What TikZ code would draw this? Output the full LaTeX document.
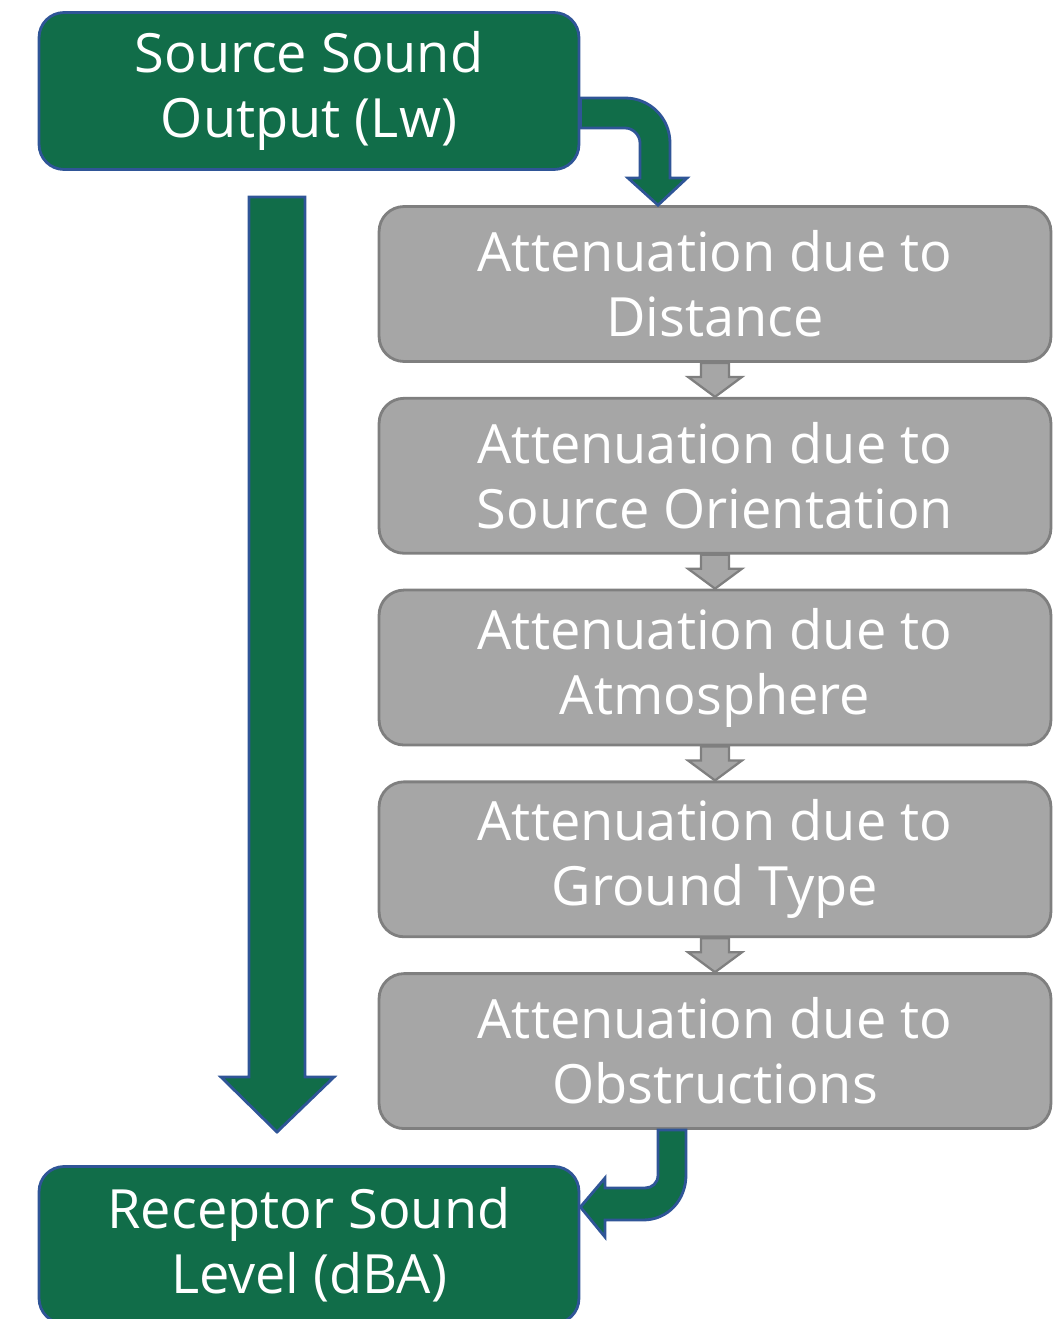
\documentclass[tikz,border=0pt]{standalone}
\usepackage{fontspec}
\setmainfont{Open Sans}
\usetikzlibrary{calc,positioning}
\definecolor{sndgreen}{RGB}{17,109,73}
\definecolor{sndblue}{RGB}{47,85,151}
\definecolor{attgray}{RGB}{166,166,166}
\definecolor{attedge}{RGB}{127,127,127}

\begin{document}
\begin{tikzpicture}[x=0.02cm,y=-0.02cm,line join=miter,
  end node/.style={rounded corners=0.5cm,fill=sndgreen,draw=sndblue,line width=1.6pt,
    minimum width=10.8cm,minimum height=3.14cm,text=white,align=center,
    font=\fontsize{30.8}{37}\selectfont},
  att node/.style={rounded corners=0.5cm,fill=attgray,draw=attedge,line width=1.6pt,
    minimum width=13.44cm,minimum height=3.1cm,text=white,align=center,
    font=\fontsize{30.8}{37}\selectfont},
  green arrow/.style={fill=sndgreen,draw=sndblue,line width=1.6pt},
  gray arrow/.style={fill=attgray,draw=attedge,line width=1.3pt}]

  \useasboundingbox (0,0) rectangle (1058,1319);

  \node[end node] (src) at (309,91) {Source Sound\\Output (Lw)};
  \node[att node] (dist) at (715,284) {Attenuation due to\\Distance};
  \node[att node] (orient) [below=0.68cm of dist] {Attenuation due to\\Source Orientation};
  \node[att node] (atmos) [below=0.68cm of orient] {Attenuation due to\\Atmosphere};
  \node[att node] (ground) [below=0.68cm of atmos] {Attenuation due to\\Ground Type};
  \node[att node] (obstr) [below=0.68cm of ground] {Attenuation due to\\Obstructions};
  \node[end node] (rec) at (309,1245) {Receptor Sound\\Level (dBA)};

  % small arrows between the attenuation steps
  \foreach \a/\b in {dist/orient,orient/atmos,atmos/ground,ground/obstr}
    \draw[gray arrow] ($(\a.south)+(-14,0)$) -- ($(\a.south)+(-14,14)$)
      -- ($(\a.south)+(-27,14)$) -- (\b.north) -- ($(\a.south)+(27,14)$)
      -- ($(\a.south)+(14,14)$) -- ($(\a.south)+(14,0)$) -- cycle;

  % source to first step
  \draw[green arrow] (src.east |- 0,98) -- (625,98)
    .. controls (650,98) and (670,118) .. (670,143) -- (670,178) -- (687,178)
    -- (dist.north -| 658,0) -- (628,178) -- (640,178) -- (640,143)
    .. controls (640,135) and (633,128) .. (625,128) -- (src.east |- 0,128) -- cycle;

  % straight path from source to receptor
  \draw[green arrow] (249,197) -- (305,197) -- (305,1077) -- (334,1077)
    -- (277,1132) -- (221,1077) -- (249,1077) -- cycle;

  % last step to receptor
  \draw[green arrow] (obstr.south -| 658,0) -- (obstr.south -| 686,0) -- (686,1175)
    .. controls (686,1200) and (668,1220) .. (643,1220) -- (605,1220) -- (605,1237)
    -- (rec.east |- 0,1207) -- (605,1178) -- (605,1188) -- (645,1188)
    .. controls (652,1188) and (658,1183) .. (658,1175) -- cycle;

\end{tikzpicture}
\end{document}
